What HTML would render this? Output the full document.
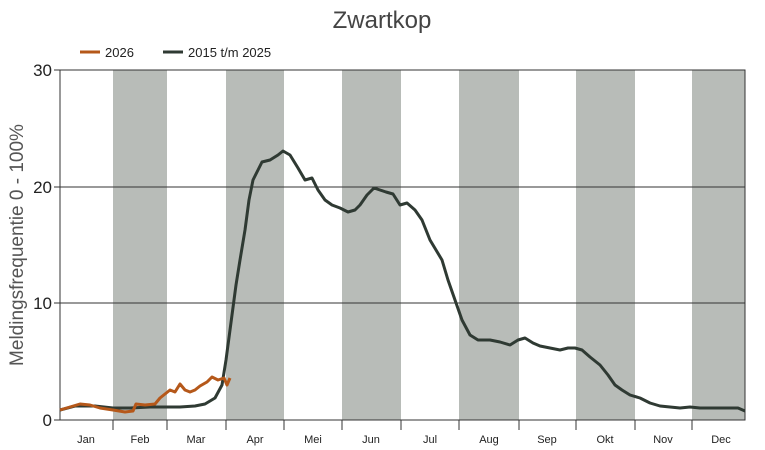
<!DOCTYPE html>
<html><head><meta charset="utf-8"><style>body{margin:0;background:#fff}svg{display:block;font-family:"Liberation Sans",sans-serif}</style></head><body>
<svg width="765" height="450" xmlns="http://www.w3.org/2000/svg">
<text x="382" y="28" text-anchor="middle" font-size="24" fill="#444">Zwartkop</text>
<line x1="80" y1="52" x2="100" y2="52" stroke="#b5581a" stroke-width="3"/>
<text x="105" y="57" font-size="13" fill="#222">2026</text>
<line x1="163" y1="52" x2="183" y2="52" stroke="#2f3a33" stroke-width="3"/>
<text x="188" y="57" font-size="13" fill="#222">2015 t/m 2025</text>
<g fill="#b8bcb8">
<rect x="113" y="70" width="54" height="350"/><rect x="226" y="70" width="58" height="350"/>
<rect x="342" y="70" width="59" height="350"/><rect x="459" y="70" width="60" height="350"/>
<rect x="576" y="70" width="59" height="350"/><rect x="692" y="70" width="53" height="350"/>
</g>
<g stroke="#333" stroke-width="1">
<line x1="60" y1="187" x2="745" y2="187"/><line x1="60" y1="303" x2="745" y2="303"/>
<rect x="60" y="70" width="685" height="350" fill="none"/>
<line x1="54" y1="70" x2="60" y2="70"/><line x1="54" y1="187" x2="60" y2="187"/><line x1="54" y1="303" x2="60" y2="303"/><line x1="54" y1="420" x2="60" y2="420"/>
<line x1="113" y1="420" x2="113" y2="430"/><line x1="167" y1="420" x2="167" y2="430"/><line x1="226" y1="420" x2="226" y2="430"/><line x1="284" y1="420" x2="284" y2="430"/><line x1="342" y1="420" x2="342" y2="430"/><line x1="401" y1="420" x2="401" y2="430"/><line x1="459" y1="420" x2="459" y2="430"/><line x1="519" y1="420" x2="519" y2="430"/><line x1="576" y1="420" x2="576" y2="430"/><line x1="635" y1="420" x2="635" y2="430"/><line x1="692" y1="420" x2="692" y2="430"/>
</g>
<g font-size="17" fill="#222" text-anchor="end">
<text x="52" y="76">30</text><text x="52" y="193">20</text><text x="52" y="309">10</text><text x="52" y="426">0</text>
</g>
<g font-size="11" fill="#222" text-anchor="middle">
<text x="86" y="443">Jan</text><text x="140" y="443">Feb</text><text x="196" y="443">Mar</text><text x="255" y="443">Apr</text><text x="313" y="443">Mei</text><text x="371" y="443">Jun</text><text x="430" y="443">Jul</text><text x="489" y="443">Aug</text><text x="547" y="443">Sep</text><text x="605" y="443">Okt</text><text x="663" y="443">Nov</text><text x="721" y="443">Dec</text>
</g>
<text transform="translate(23,245) rotate(-90)" text-anchor="middle" font-size="19" fill="#555">Meldingsfrequentie 0 - 100%</text>
<polyline fill="none" stroke="#2f3a33" stroke-width="3" stroke-linejoin="round" points="60,410 75,406 95,406 113,408 130,408 150,407 167,407 180,407 195,406 205,404 215,398 222,385 226,360 230,330 236,285 240,260 245,230 249,200 253,180 258,170 262,162 270,160 278,155 283,151 290,155 298,168 305,180 312,178 318,190 325,200 332,205 340,208 348,212 355,210 360,205 367,195 374,188 380,190 386,192 393,194 400,205 407,203 415,210 422,220 430,240 436,250 442,260 448,280 455,300 462,320 470,335 478,340 490,340 500,342 510,345 518,340 525,338 533,343 540,346 550,348 560,350 568,348 575,348 582,350 590,357 600,365 608,375 615,385 622,390 630,395 640,398 650,403 660,406 670,407 680,408 690,407 700,408 710,408 720,408 730,408 738,408 745,411"/>
<polyline fill="none" stroke="#b5581a" stroke-width="3" stroke-linejoin="round" points="60,410 70,407 80,404 90,405 100,408 113,410 125,412 133,411 136,404 145,405 155,404 160,398 165,394 170,390 175,392 180,384 185,390 190,392 195,390 200,386 207,382 212,377 218,380 224,378 227,385 230,378"/>
</svg>
</body></html>
